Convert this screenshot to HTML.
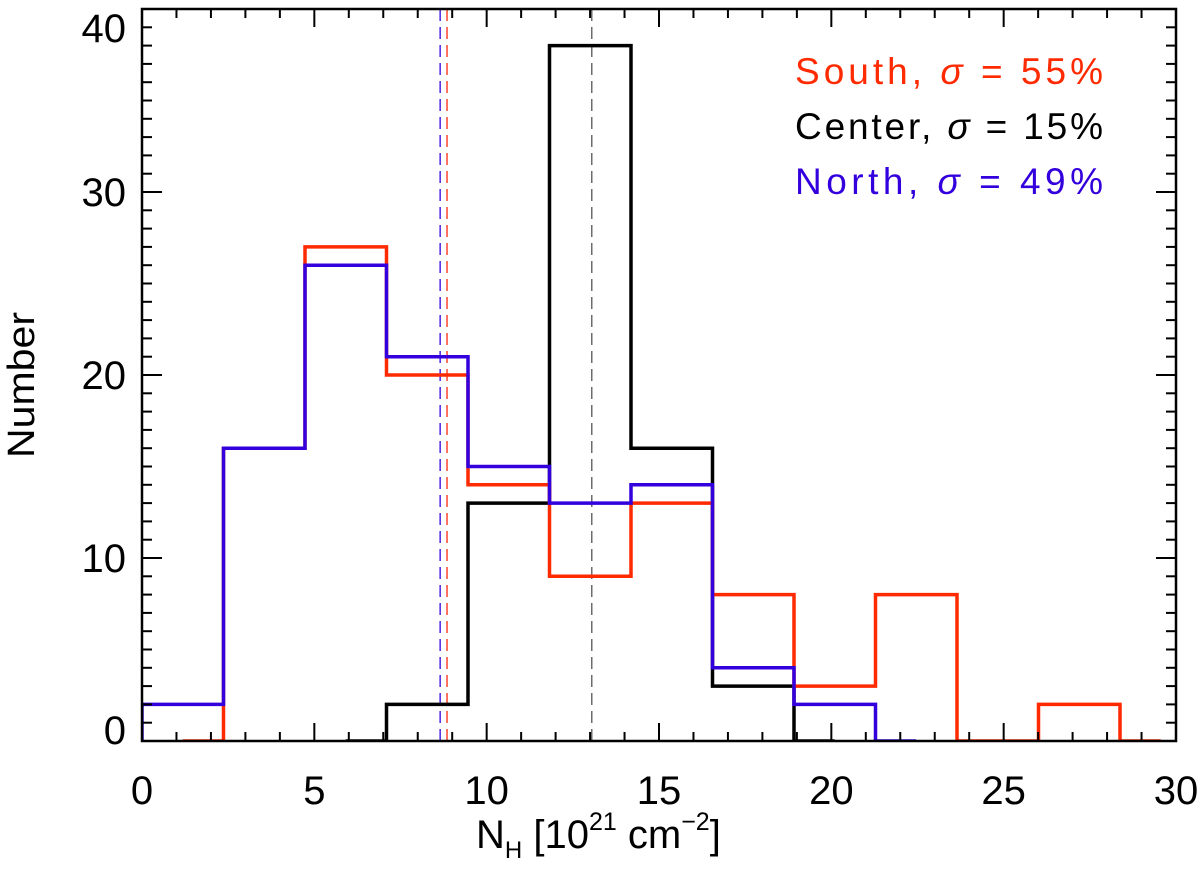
<!DOCTYPE html>
<html><head><meta charset="utf-8"><style>
body{margin:0;background:#fff}
svg{display:block;font-family:"Liberation Sans",sans-serif}
</style></head><body>
<svg id="chart" width="1200" height="879" viewBox="0 0 1200 879">
<defs><clipPath id="plotclip"><rect x="142" y="9" width="1034" height="733"/></clipPath></defs>
<g id="marks" clip-path="url(#plotclip)"></g>
<g id="axes"></g>
<g id="labels"></g>
<text x="34" y="385" transform="rotate(-90 34 385)" text-anchor="middle" font-size="38" textLength="146" lengthAdjust="spacingAndGlyphs">Number</text>
<text x="476" y="848" font-size="40">N<tspan font-size="24" dy="10">H</tspan><tspan dy="-10"> [10</tspan><tspan font-size="25" dy="-18">21</tspan><tspan dy="18"> cm</tspan><tspan font-size="25" dy="-18">−2</tspan><tspan dy="18">]</tspan></text>
<g font-size="37">
<text x="795" y="84" fill="#ff2a00" textLength="308" lengthAdjust="spacing">South,   <tspan font-style="italic">σ</tspan> = 55%</text>
<text x="795" y="139" fill="#000" textLength="308" lengthAdjust="spacing">Center, <tspan font-style="italic">σ</tspan> = 15%</text>
<text x="795" y="194" fill="#3300dd" textLength="308" lengthAdjust="spacing">North,   <tspan font-style="italic">σ</tspan> = 49%</text>
</g>
</svg>
<script>
// Data
const binWidth = 2.3645;
const southStart = 0;
const southValues = [0,16,27,20,14,9,13,8,3,8,0,2,0];
const centerStart = 2;
const centerValues = [0,2,13,38,16,3,0];
const northStart = -1;
const northValues = [0,2,16,26,21,15,13,14,4,2,0];
const meanNorth = 8.65, meanSouth = 8.85, meanCenter = 13.05;
const xTicks = [0,5,10,15,20,25,30];
const yTicks = [0,10,20,30,40];

const X0=142,X1=1176,Y0=741,Y1=9;
const xs = v => X0 + (v/30)*(X1-X0);
const ys = v => Y0 - (v/40)*(Y0-Y1);
const NS="http://www.w3.org/2000/svg";
function mk(tag, attrs, parent){const e=document.createElementNS(NS,tag);for(const k in attrs)e.setAttribute(k,attrs[k]);parent.appendChild(e);return e;}
const marks=document.getElementById('marks'),axes=document.getElementById('axes'),labels=document.getElementById('labels');

function stepPath(start, vals){
  let d='';
  const n=vals.length;
  for(let i=0;i<n;i++){
    const k=start+i;
    const l = (i===0)? (k+0.5)*binWidth : k*binWidth;
    const r = (i===n-1)? (k+0.5)*binWidth : (k+1)*binWidth;
    const y=ys(vals[i]);
    d += (i===0? 'M':'L') + xs(l).toFixed(1)+','+y.toFixed(1)+' L'+xs(r).toFixed(1)+','+y.toFixed(1)+' ';
  }
  return d;
}
function dashed(v,color,name){
  const l=mk('line',{x1:xs(v),x2:xs(v),y1:Y1,y2:Y0,stroke:color,'stroke-width':1.3,'stroke-dasharray':'12,6'},marks);
  
  
}
dashed(meanNorth,'#3300dd','north-mean-line');
dashed(meanSouth,'#ff2a10','south-mean-line');
dashed(meanCenter,'#555','center-mean-line');
const pc=mk('path',{d:stepPath(centerStart,centerValues),fill:'none',stroke:'#000','stroke-width':3.5},marks);


const ps=mk('path',{d:stepPath(southStart,southValues),fill:'none',stroke:'#ff2a00','stroke-width':3.5},marks);


const pn=mk('path',{d:stepPath(northStart,northValues),fill:'none',stroke:'#3300dd','stroke-width':3.5},marks);



const fr=mk('rect',{x:X0,y:Y1,width:X1-X0,height:Y0-Y1,fill:'none',stroke:'#000','stroke-width':2.5},axes);


for(let v=0;v<=30;v++){
  const major=v%5===0, len=major?18:9, x=xs(v);
  mk('line',{x1:x,x2:x,y1:Y0,y2:Y0-len,stroke:'#000','stroke-width':2},axes);
  mk('line',{x1:x,x2:x,y1:Y1,y2:Y1+len,stroke:'#000','stroke-width':2},axes);
}
for(let v=0;v<=40;v++){
  const major=v%10===0, len=major?20:10, y=ys(v);
  mk('line',{x1:X0,x2:X0+len,y1:y,y2:y,stroke:'#000','stroke-width':2},axes);
  mk('line',{x1:X1,x2:X1-len,y1:y,y2:y,stroke:'#000','stroke-width':2},axes);
}
xTicks.forEach(v=>{
  const t=mk('text',{x:xs(v),y:804,'text-anchor':'middle','font-size':40,fill:'#000'},labels);
  t.textContent=v;
  
  
});
yTicks.forEach(v=>{
  let y=ys(v)+14; if(v===40) y=42; if(v===0) y=744;
  const t=mk('text',{x:126,y:y,'text-anchor':'end','font-size':40,fill:'#000'},labels);
  t.textContent=v;
  
  
});
</script>
</body></html>
